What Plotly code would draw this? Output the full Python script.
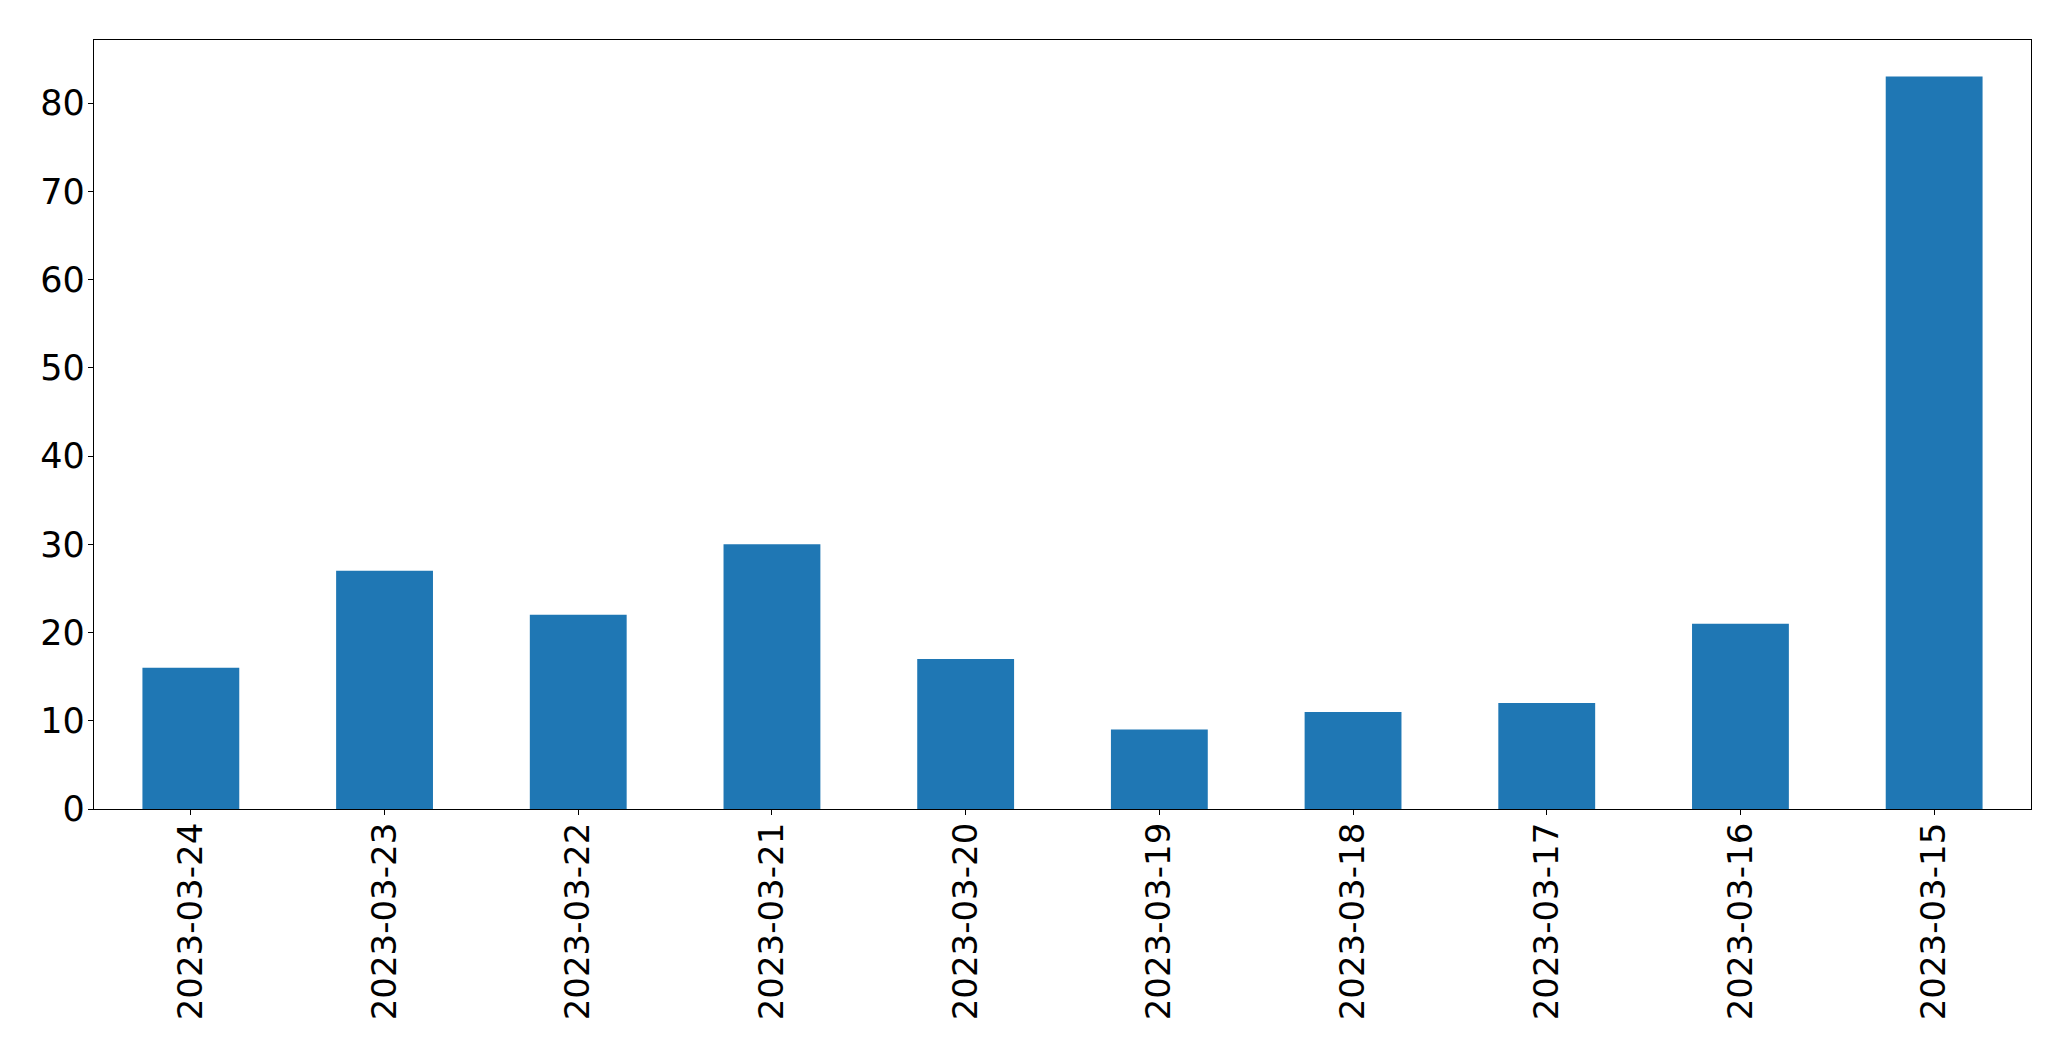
import plotly.graph_objects as go

dates = ["2023-03-24", "2023-03-23", "2023-03-22", "2023-03-21", "2023-03-20",
         "2023-03-19", "2023-03-18", "2023-03-17", "2023-03-16", "2023-03-15"]
counts = [16, 27, 22, 30, 17, 9, 11, 12, 21, 83]
y_ticks = [0, 10, 20, 30, 40, 50, 60, 70, 80]

fig = go.Figure(go.Bar(x=dates, y=counts, marker_color="#1f77b4",
                       marker_line_width=0, width=0.5))

xfont = dict(family="DejaVu Sans", size=34, color="black")
yfont = dict(family="DejaVu Sans", size=35, color="black")
# page body has an 8px margin, so the figure is offset by 8px
fig.update_layout(
    width=2063, height=1053, autosize=False,
    margin=dict(l=86, r=40, t=32, b=252),
    plot_bgcolor="white", paper_bgcolor="white",
    showlegend=False,
)
fig.update_xaxes(type="category", range=[-0.5, len(dates) - 0.5],
                 showline=True, linecolor="black", linewidth=1.3, mirror=True,
                 ticks="outside", ticklen=5, tickcolor="black", tickwidth=1.3,
                 ticklabelstandoff=-6,
                 tickangle=-90, tickfont=xfont, showgrid=False, zeroline=False)
fig.update_yaxes(range=[0, max(counts) * 1.05], tickvals=y_ticks,
                 showline=True, linecolor="black", linewidth=1.3, mirror=True,
                 ticks="outside", ticklen=5, tickcolor="black", tickwidth=1.3,
                 ticklabelstandoff=-4,
                 tickfont=yfont, showgrid=False, zeroline=False)
fig.write_html("out.html")
